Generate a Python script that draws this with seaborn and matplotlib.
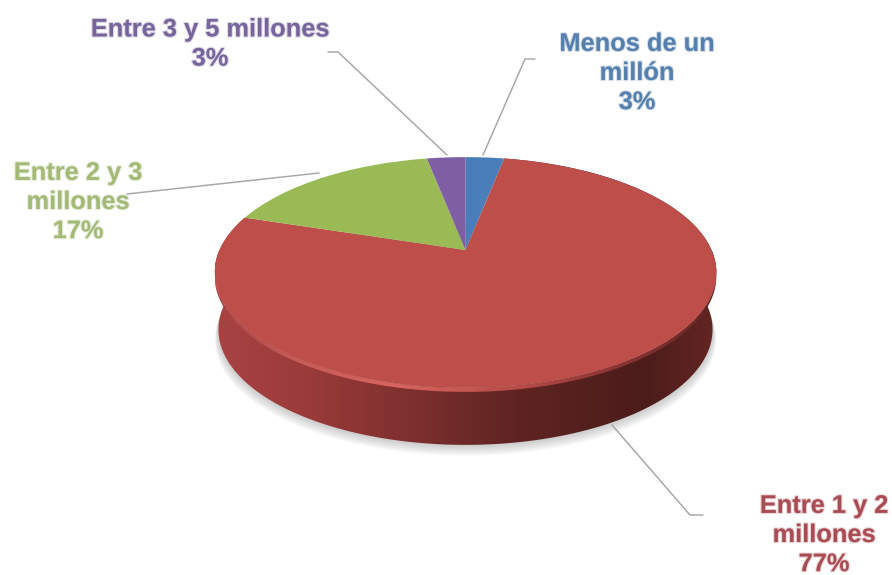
import numpy as np
import matplotlib
matplotlib.use("Agg")
import matplotlib.pyplot as plt
import matplotlib.patheffects as pe
import seaborn as sns
from matplotlib.colors import LinearSegmentedColormap
from matplotlib.patches import Polygon
from matplotlib.transforms import Transform

# data
categorias = ["Menos de un\nmillón", "Entre 1 y 2\nmillones", "Entre 2 y 3\nmillones", "Entre 3 y 5 millones"]
porcentajes = [3, 77, 17, 3]
colores = ["#4a7ebb", "#bd4e4a", "#9aba55", "#7f5fa3"]
colores_texto = ["#5580ae", "#a94b53", "#a3ba76", "#76649b"]

# layout, in pixels of the picture
ancho, alto = 892, 575
pos_texto = [(637, 73), (824, 535), (78, 202), (210, 44)]
guias = [
    [(535, 59), (525, 59), (483, 155)],
    [(612, 425), (690, 515), (703, 515)],
    [(127, 194), (319, 173)],
    [(328, 52), (338, 52), (447, 155)],
]
cx, cy = 465.5, 250
grosor = 57


class Tilt(Transform):
    # perspective view of the unit circle, the centre sits above the ellipse centre
    input_dims = output_dims = 2
    is_affine = False

    def __init__(self, drop=0.0, shrink=1.0):
        super().__init__()
        self.drop = drop
        self.shrink = shrink

    def transform_non_affine(self, values):
        xy = np.asarray(values, dtype=float)
        w = 1 + 0.195 * xy[:, 1]
        return np.column_stack([
            cx + 246 * self.shrink * xy[:, 0] / w,
            cy - 111 * xy[:, 1] / w + self.drop,
        ])


def arco(t1, t2, drop, shrink=1.0):
    t = np.radians(np.linspace(t1, t2, 200))
    return Tilt(drop, shrink).transform_non_affine(np.column_stack([np.cos(t), np.sin(t)]))


def banda(ax, puntos, cmap, zorder):
    # horizontal gradient clipped to a polygon
    im = ax.imshow(np.linspace(0, 1, 256)[None, :], extent=(215, 718, alto, 0), aspect="auto",
                   cmap=cmap, zorder=zorder)
    im.set_clip_path(Polygon(puntos, closed=True, transform=ax.transData))


sns.set_theme(style="white")
plt.rcParams["font.family"] = ["Liberation Sans", "DejaVu Sans"]

fig = plt.figure(figsize=(ancho / 100, alto / 100), dpi=100)
ax = fig.add_axes([0, 0, 1, 1])

wedges, _ = ax.pie(porcentajes, colors=sns.color_palette(colores), startangle=90,
                   counterclock=False, radius=1, center=(0, 0))
for w in wedges:
    w.set_transform(Tilt() + ax.transData)
    w.set_zorder(5)
    w.set_edgecolor("none")

# soft shadow under the disc
for g in range(12, 0, -1):
    base = arco(0, 360, grosor + g * 0.9, 0.985 + g * 0.0012)
    ax.add_patch(Polygon(base, closed=True, facecolor="#808080", edgecolor="none", alpha=0.035, zorder=1))

# side wall of the big slice, takes its angles from the wedge
rojo = wedges[1]
lado = LinearSegmentedColormap.from_list("lado", [
    (0.0, "#a84342"), (0.18, "#9a3b3a"), (0.4, "#7c2f2e"), (0.6, "#5f2422"),
    (0.85, "#4b1c1a"), (1.0, "#642623"),
])
banda(ax, np.vstack([arco(rojo.theta1, rojo.theta2, 0), arco(rojo.theta2, rojo.theta1, grosor, 0.985)]), lado, 2)

# light rim on the front edge
borde = LinearSegmentedColormap.from_list("borde", [
    (0.0, "#a84342"), (0.15, "#c65a57"), (0.35, "#d8655f"), (0.6, "#b84c48"),
    (0.8, "#8a3532"), (1.0, "#642623"),
])
banda(ax, np.vstack([arco(180, 360, 0), arco(360, 180, 4)]), borde, 3)

# leader lines
for g in guias:
    xs, ys = zip(*g)
    sns.lineplot(x=np.array(xs), y=np.array(ys), ax=ax, color="#a9a9a9", lw=1.1, sort=False,
                 estimator=None, zorder=4)

for cat, val, col, (x, y) in zip(categorias, porcentajes, colores_texto, pos_texto):
    t = ax.text(x, y, f"{cat}\n{val}%", color=col, ha="center", va="center", fontsize=18.3,
                fontweight="bold", linespacing=1.27, zorder=6)
    t.set_path_effects([pe.withStroke(linewidth=1.6, foreground=col, alpha=0.25)])

ax.set_aspect("auto")
ax.set_xlim(0, ancho)
ax.set_ylim(alto, 0)
ax.axis("off")

fig.savefig("out.png", dpi=100)
